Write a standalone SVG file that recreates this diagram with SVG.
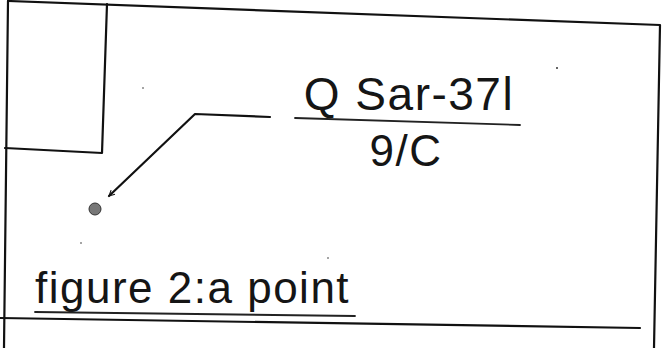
<svg xmlns="http://www.w3.org/2000/svg" width="663" height="348" viewBox="0 0 663 348">
<style>
.ln{fill:none;stroke:#111;stroke-width:2.2;stroke-linecap:round;stroke-linejoin:round}
.ul{fill:none;stroke:#222;stroke-width:1.8;stroke-linecap:round}
.tx{font-family:"Liberation Sans",Arial,sans-serif;fill:#151515;letter-spacing:1.5px}
.dot{fill:#333}
</style>
<defs>
<marker id="ah" viewBox="0 0 10 10" refX="9" refY="5" markerWidth="7" markerHeight="7" orient="auto" markerUnits="userSpaceOnUse">
<path d="M1,1 L9,5 L1,9" fill="none" stroke="#111" stroke-width="1.6"/>
</marker>
</defs>
<rect width="663" height="348" fill="#fff"/>
<g id="frame">
<path class="ln" d="M8,1 L660,25 L654,348"/>
<path class="ln" d="M8,1 L4,348"/>
<path class="ln" d="M0,318 L640,328"/>
</g>
<g id="inset">
<path class="ln" d="M107,4 L102,153 L5,148"/>
</g>
<g id="label">
<text class="tx" x="409" y="110" font-size="46" text-anchor="middle">Q Sar-37l</text>
<path class="ul" d="M295,118 L520,125"/>
<text class="tx" x="406" y="166" font-size="44" text-anchor="middle">9/C</text>
</g>
<g id="point">
<circle cx="95" cy="209" r="6" fill="#777" stroke="#333" stroke-width="1"/>
</g>
<g id="caption">
<text class="tx" x="35" y="303" font-size="44">figure 2:a point</text>
<path class="ul" d="M35,312 L355,316"/>
</g>
<g id="connectors">
<path class="ln" d="M270,117 L195,114 L109,196" marker-end="url(#ah)"/>
</g>
<g id="specks">
<circle class="dot" cx="557" cy="68" r="1"/>
<circle class="dot" cx="143" cy="88" r="0.8"/>
<circle class="dot" cx="81" cy="243" r="0.8"/>
<circle class="dot" cx="328" cy="258" r="0.8"/>
</g>
</svg>
